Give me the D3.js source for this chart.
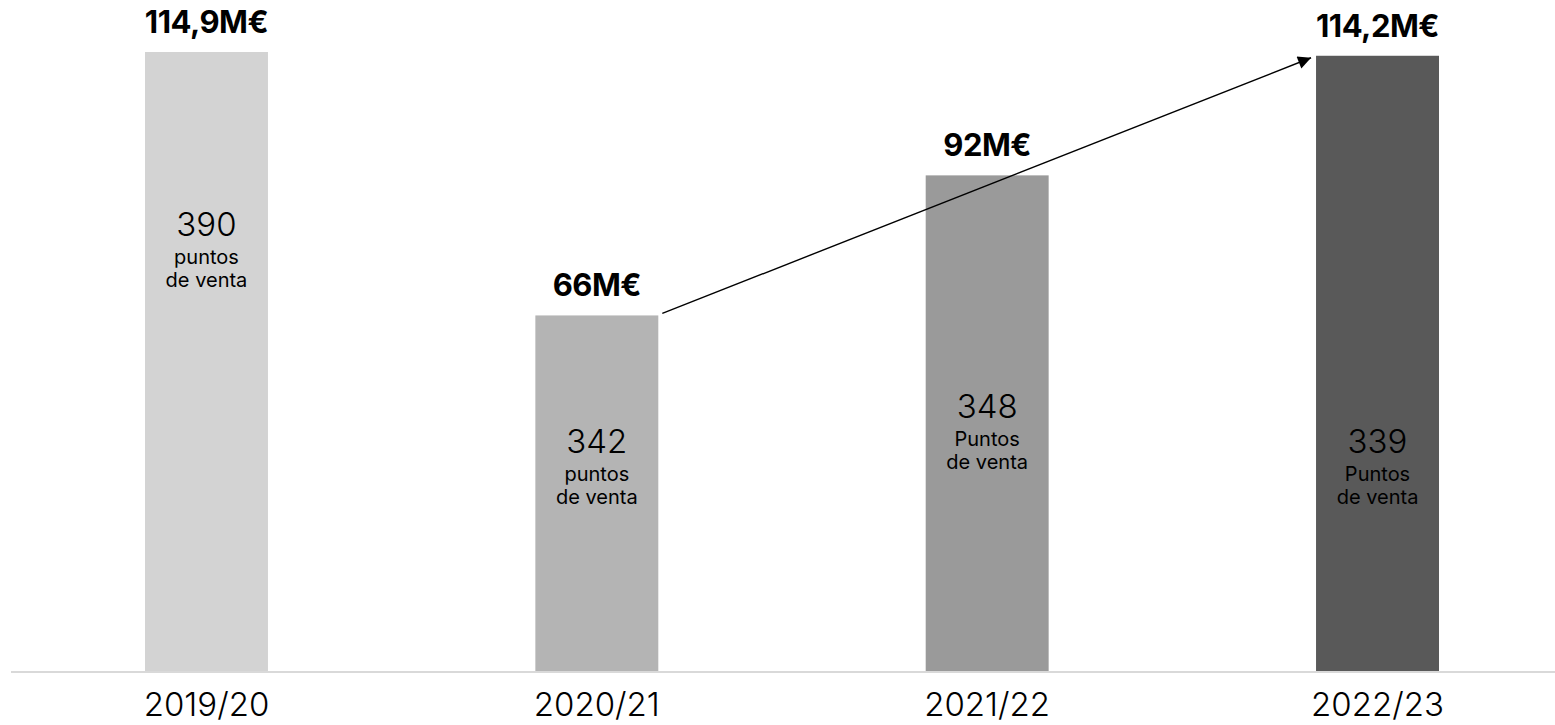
<!DOCTYPE html>
<html>
<head>
<meta charset="utf-8">
<script src="https://cdn.jsdelivr.net/npm/d3@7"></script>
<style>
  body { margin: 0; background: #fff; }
  text { font-family: Inter, "Noto Sans", sans-serif; }
</style>
</head>
<body>
<div class="chart"></div>
<script>
var seasons = ['2019/20', '2020/21', '2021/22', '2022/23'];
var revenue = [114.9, 66, 92, 114.2];
var revenueLabels = ['114,9M€', '66M€', '92M€', '114,2M€'];
var stores = [390, 342, 348, 339];
var storesWord = ['puntos', 'puntos', 'Puntos', 'Puntos'];
var barColors = ['#d3d3d3', '#b4b4b4', '#9a9a9a', '#595959'];

// where the store count sits inside each bar, in revenue units
var innerLabelAt = [80.7, 40.5, 47, 40.5];

var fullWidth = 1555;
var fullHeight = 725;
var baseline = 671;

var svg = d3.select('.chart')
  .append('svg')
  .attr('width', fullWidth)
  .attr('height', fullHeight)
  .style('display', 'block');

var xScale = d3.scaleBand()
  .domain(seasons)
  .range([145, 1439])
  .paddingInner(0.685)
  .paddingOuter(0);

var yScale = d3.scaleLinear()
  .domain([0, 114.9])
  .range([baseline, 52]);

// bars
svg.selectAll('.bar')
  .data(seasons)
  .enter()
  .append('rect')
  .attr('class', 'bar')
  .attr('x', d => xScale(d))
  .attr('y', (d, i) => yScale(revenue[i]))
  .attr('width', xScale.bandwidth())
  .attr('height', (d, i) => baseline - yScale(revenue[i]))
  .style('fill', (d, i) => barColors[i]);

// baseline
svg.append('line')
  .attr('x1', 11)
  .attr('x2', fullWidth)
  .attr('y1', baseline + 1)
  .attr('y2', baseline + 1)
  .style('stroke', '#d9d9d9')
  .style('stroke-width', 2);

// category labels
svg.selectAll('.cat')
  .data(seasons)
  .enter()
  .append('text')
  .attr('class', 'cat')
  .attr('x', d => xScale(d) + xScale.bandwidth() / 2)
  .attr('y', 716)
  .style('text-anchor', 'middle')
  .style('font-size', '33px')
  .style('font-weight', 300)
  .style('fill', '#000')
  .text(d => d);

// revenue labels on top
svg.selectAll('.rev')
  .data(seasons)
  .enter()
  .append('text')
  .attr('class', 'rev')
  .attr('x', d => xScale(d) + xScale.bandwidth() / 2)
  .attr('y', (d, i) => yScale(revenue[i]) - 19)
  .style('text-anchor', 'middle')
  .style('font-size', '31px')
  .style('font-weight', 700)
  .style('letter-spacing', '-0.5px')
  .style('fill', '#000')
  .text((d, i) => revenueLabels[i]);

// store counts inside bars
var inner = svg.selectAll('.inner')
  .data(seasons)
  .enter()
  .append('g')
  .attr('class', 'inner')
  .attr('transform', (d, i) =>
    `translate(${xScale(d) + xScale.bandwidth() / 2}, ${yScale(innerLabelAt[i])})`);

inner.append('text')
  .style('text-anchor', 'middle')
  .style('font-size', '33px')
  .style('font-weight', 300)
  .style('fill', '#000')
  .text((d, i) => stores[i]);

inner.append('text')
  .attr('y', 28)
  .style('text-anchor', 'middle')
  .style('font-size', '20px')
  .style('font-weight', 400)
  .style('fill', '#000')
  .text((d, i) => storesWord[i]);

inner.append('text')
  .attr('y', 51)
  .style('text-anchor', 'middle')
  .style('font-size', '20px')
  .style('font-weight', 400)
  .style('fill', '#000')
  .text('de venta');

// growth arrow from 2020/21 to 2022/23
svg.append('defs')
  .append('marker')
  .attr('id', 'head')
  .attr('viewBox', '0 0 10 10')
  .attr('refX', 10)
  .attr('refY', 5)
  .attr('markerWidth', 17)
  .attr('markerHeight', 13)
  .attr('markerUnits', 'userSpaceOnUse')
  .attr('orient', 'auto')
  .append('path')
  .attr('d', 'M0,0 L10,5 L0,10 Z')
  .style('fill', '#000');

svg.append('line')
  .attr('x1', xScale(seasons[1]) + xScale.bandwidth() + 4)
  .attr('y1', yScale(revenue[1]) - 2)
  .attr('x2', xScale(seasons[3]) - 5)
  .attr('y2', yScale(revenue[3]) + 2)
  .style('stroke', '#000')
  .style('stroke-width', 1.4)
  .attr('marker-end', 'url(#head)');
</script>
</body>
</html>
